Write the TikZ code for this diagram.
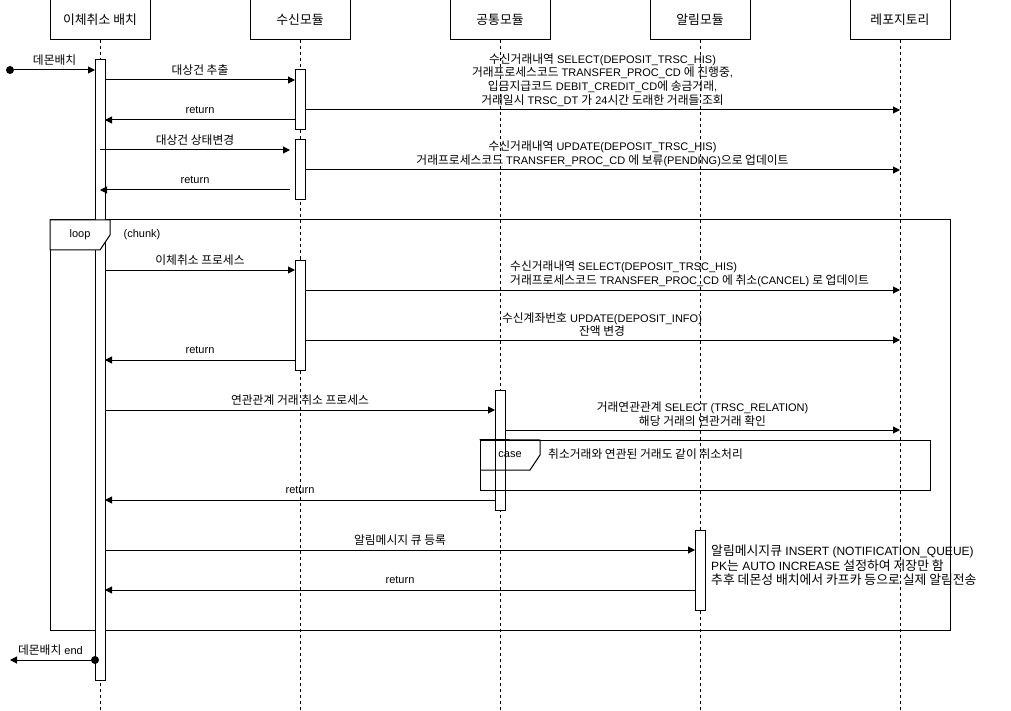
\documentclass[tikz,border=0pt]{standalone}
\usepackage{fontspec}
\setmainfont{Liberation Sans}
\newfontfamily\kr{Noto Sans CJK KR}[Scale=1.07]
\usetikzlibrary{arrows.meta}
\newcommand\K[1]{{\kr #1}}
\begin{document}
\begin{tikzpicture}[x=1pt,y=-1pt,
  head/.style={draw, line width=1pt, minimum width=100pt, minimum height=40pt, inner sep=0pt, font=\fontsize{12}{14}\selectfont},
  life/.style={line width=1pt, dash pattern=on 3pt off 3pt},
  bar/.style={draw, fill=white, line width=1pt, minimum width=10pt, inner sep=0pt, outer sep=0pt},
  msg/.style={line width=1pt, -{Triangle[length=7pt,width=7pt]}},
  lbl/.style={font=\fontsize{11}{13.7}\selectfont, inner sep=0pt, align=center},
  frm/.style={draw, line width=1pt},
  dot/.style={circle, fill=black, inner sep=0pt, minimum size=8pt},
]
\useasboundingbox (0,0) rectangle (1011,711);

% heads
\node[head] (h0) at (100,20) {\K{이체취소 배치}};
\node[head] (h1) at (300,20) {\K{수신모듈}};
\node[head] (h2) at (500,20) {\K{공통모듈}};
\node[head] (h3) at (700,20) {\K{알림모듈}};
\node[head] (h4) at (900,20) {\K{레포지토리}};

% lifelines
\foreach \h in {h0,h1,h2,h3,h4} {\draw[life] (\h.south) -- (\h |- 0,711);}

% loop frame rectangle
\node[frm, minimum width=900pt, minimum height=410pt, inner sep=0pt] (loopf) at (500,425) {};

% activation bars
\node[bar, minimum height=620pt] (b0) at (100,370) {};
\node[bar, minimum height=60pt] (b1a) at (300,100) {};
\node[bar, minimum height=60pt] (b1b) at (300,170) {};
\node[bar, minimum height=110pt] (b1c) at (300,315) {};
\node[bar, minimum height=120pt] (b2) at (500,450) {};
\node[bar, minimum height=80pt] (b3) at (700,570) {};

% case frame (drawn over the bar, unfilled)
\node[frm, minimum width=450pt, minimum height=50pt, inner sep=0pt] (casef) at (705,465) {};
\draw[frm] (casef.north west) -- (540,440) -- (540,455) -- (530,470) -- (480,470);
\node[lbl, font=\fontsize{11}{13}\selectfont] (caselbl) at (510,455) {case};
\node[lbl, anchor=west] (casetxt) at (548,454) {\K{취소거래와 연관된 거래도 같이 취소처리}};

% loop tab
\draw[frm, fill=white] (50,220) -- (110,220) -- (110,235) -- (100,250) -- (50,250) -- cycle;
\node[lbl] (looplbl) at (80,235) {loop};
\node[lbl] (chunk) at (142,235) {(chunk)};

% start
\node[dot] (start) at (10,70) {};
\draw[msg] (start) -- (b0.west |- start) node[lbl, midway, yshift=10pt] {\K{데몬배치}};

\draw[msg] (b0.east |- 0,80) -- (b1a.west |- 0,80) node[lbl, midway, yshift=10pt] {\K{대상건 추출}};
\draw[msg] (b1a.west |- 0,120) -- (b0.east |- 0,120) node[lbl, midway, yshift=10pt] {return};
\draw[msg] (b1a.east |- 0,110) -- (h4 |- 0,110) node[lbl, midway, anchor=south, yshift=3pt] {\K{수신거래내역} SELECT(DEPOSIT\_TRSC\_HIS)\\ \K{거래프로세스코드} TRANSFER\_PROC\_CD \K{에 진행중},\\ \K{입금지급코드} DEBIT\_CREDIT\_CD\K{에 송금거래},\\ \K{거래일시} TRSC\_DT \K{가} 24\K{시간 도래한 거래들 조회}};

\draw[msg] (b0.center |- 0,150) -- ([xshift=-5pt]b1b.west |- 0,150) node[lbl, midway, yshift=10pt] {\K{대상건 상태변경}};
\draw[msg] ([xshift=-5pt]b1b.west |- 0,190) -- (b0.center |- 0,190) node[lbl, midway, yshift=10pt] {return};
\draw[msg] (b1b.east |- 0,170) -- (h4 |- 0,170) node[lbl, midway, anchor=south, yshift=3pt] {\K{수신거래내역} UPDATE(DEPOSIT\_TRSC\_HIS)\\ \K{거래프로세스코드} TRANSFER\_PROC\_CD \K{에 보류}(PENDING)\K{으로 업데이트}};

% loop content
\draw[msg] (b0.east |- 0,270) -- (b1c.west |- 0,270) node[lbl, midway, yshift=10pt] {\K{이체취소 프로세스}};
\draw[msg] (b1c.east |- 0,290) -- (h4 |- 0,290);
\node[lbl, align=left, anchor=south west] (t3) at (510,287) {\K{수신거래내역} SELECT(DEPOSIT\_TRSC\_HIS)\\ \K{거래프로세스코드} TRANSFER\_PROC\_CD \K{에 취소}(CANCEL) \K{로 업데이트}};
\draw[msg] (b1c.east |- 0,340) -- (h4 |- 0,340);
\node[lbl, anchor=south] (t4) at (602,337) {\K{수신계좌번호} UPDATE(DEPOSIT\_INFO)\\ \K{잔액 변경}};
\draw[msg] (b1c.west |- 0,360) -- (b0.east |- 0,360) node[lbl, midway, yshift=10pt] {return};

\draw[msg] (b0.east |- 0,410) -- (b2.west |- 0,410) node[lbl, midway, yshift=10pt] {\K{연관관계 거래 취소 프로세스}};
\draw[msg] (b2.east |- 0,430) -- (h4 |- 0,430) node[lbl, midway, anchor=south, yshift=3pt] {\K{거래연관관계} SELECT (TRSC\_RELATION)\\ \K{해당 거래의 연관거래 확인}};
\draw[msg] (b2.west |- 0,500) -- (b0.east |- 0,500) node[lbl, midway, yshift=10pt] {return};

\draw[msg] (b0.east |- 0,550) -- (b3.west |- 0,550) node[lbl, midway, yshift=10pt] {\K{알림메시지 큐 등록}};
\draw[msg] (b3.west |- 0,590) -- (b0.east |- 0,590) node[lbl, midway, yshift=10pt] {return};
\node[lbl, align=left, anchor=north west, font=\fontsize{12}{14.5}\selectfont] (note) at (711,545) {\K{알림메시지큐} INSERT (NOTIFICATION\_QUEUE)\\ PK\K{는} AUTO INCREASE \K{설정하여 저장만 함}\\ \K{추후 데몬성 배치에서 카프카 등으로 실제 알림전송}};

% end
\node[dot] (endd) at (95,660) {};
\coordinate (endtip) at (10,660);
\draw[msg] (endd) -- (endtip) node[lbl, midway, yshift=10pt] {\K{데몬배치} end};
\end{tikzpicture}
\end{document}
